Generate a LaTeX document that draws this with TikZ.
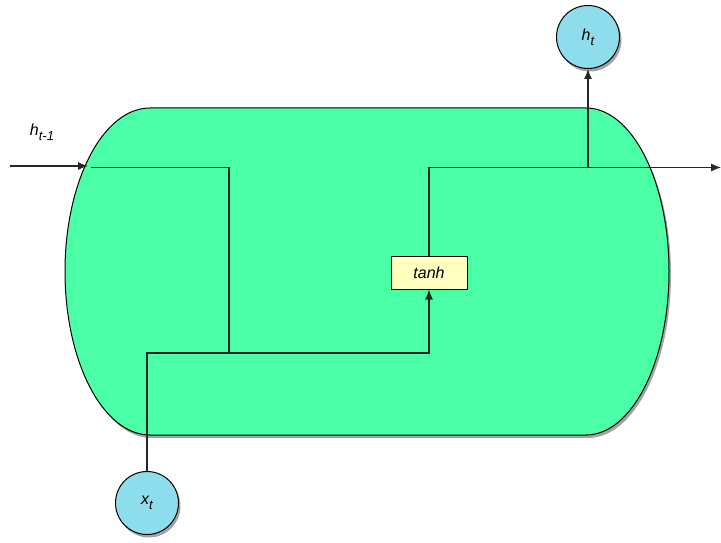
\documentclass[tikz,border=0pt]{standalone}
\usepackage{fontspec}
\setmainfont{Liberation Sans}
\usepackage{tikz}
\usetikzlibrary{arrows.meta,shadows}

\newcommand{\lowsub}[1]{\raisebox{-0.6ex}{\fontsize{13}{14}\selectfont #1}}

\begin{document}
\begin{tikzpicture}[x=1pt, y=-1pt,
  every node/.style={font=\fontsize{16}{18}\selectfont\itshape},
  link/.style={line width=1.2pt, draw=black!85},
  flow/.style={link, -{Latex[length=10pt,width=8pt]}},
  cellbody/.style={draw=black, line width=1pt, fill=cellgreen,
    drop shadow={shadow xshift=2pt, shadow yshift=-3pt, opacity=0.6, fill=black!60}},
  io/.style={circle, draw=black, line width=1pt, fill=iocyan,
    minimum size=63pt, inner sep=0pt,
    drop shadow={shadow xshift=2pt, shadow yshift=-3pt, opacity=0.6, fill=black!60}},
  gate/.style={rectangle, draw=black, line width=1pt, fill=gateyellow,
    minimum width=76pt, minimum height=33pt, inner sep=0pt}]

  \definecolor{cellgreen}{RGB}{75,255,166}
  \definecolor{iocyan}{RGB}{142,221,236}
  \definecolor{gateyellow}{RGB}{255,255,192}

  \useasboundingbox (0,0) rectangle (721,543);

  % cell body
  \draw[cellbody] (150,108) -- (586,108)
    arc[start angle=90, end angle=-90, x radius=83pt, y radius=163.5pt]
    -- (150,435)
    arc[start angle=270, end angle=90, x radius=85pt, y radius=163.5pt]
    -- cycle;

  % nodes
  \node[io] (xt) at (147,503) {x\lowsub{t}};
  \node[io] (ht) at (588,37) {h\lowsub{t}};
  \node[gate] (tanh) at (429,272.5) {tanh};

  \coordinate (hin) at (10,166);
  \coordinate (hedge) at (88,166);
  \coordinate (hstart) at (91,167.5);
  \coordinate (join) at (229,353);
  \coordinate (split) at (588,167.5);
  \coordinate (hout) at (721,167.5);

  % connections
  \draw[flow] (hin) -- (hedge);
  \node at (42,132) {h\lowsub{t-1}};
  \draw[link] (hstart) -| (join);
  \draw[flow] (xt) |- (join) -| (tanh);
  \draw[flow] (tanh) |- (hout);
  \draw[flow] (split) -- (ht);

\end{tikzpicture}
\end{document}
